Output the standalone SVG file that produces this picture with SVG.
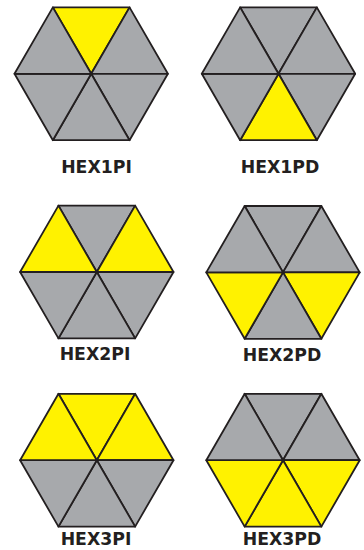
<svg xmlns="http://www.w3.org/2000/svg" width="364" height="550" viewBox="0 0 364 550">
<style>
.t{stroke:#231f20;stroke-width:1.8;stroke-linejoin:round}
.g{fill:#a7a9ac}
.y{fill:#fff200}
.lbl{font-family:"DejaVu Sans",sans-serif;font-weight:bold;font-size:17.3px;fill:#231f20;text-anchor:middle}
</style>
<defs>
<polygon id="tT" points="0,0 -38.35,-66.4 38.35,-66.4"/>
<polygon id="tTR" points="0,0 38.35,-66.4 76.7,0"/>
<polygon id="tBR" points="0,0 76.7,0 38.35,66.4"/>
<polygon id="tB" points="0,0 38.35,66.4 -38.35,66.4"/>
<polygon id="tBL" points="0,0 -38.35,66.4 -76.7,0"/>
<polygon id="tTL" points="0,0 -76.7,0 -38.35,-66.4"/>
</defs>
<g id="hex1pi">
<g transform="translate(91.2,73.8)" class="t">
<use href="#tT" class="y"/><use href="#tTR" class="g"/><use href="#tBR" class="g"/><use href="#tB" class="g"/><use href="#tBL" class="g"/><use href="#tTL" class="g"/>
</g>
<text class="lbl" x="96.5" y="173">HEX1PI</text>
</g>
<g id="hex1pd">
<g transform="translate(278.5,73.8)" class="t">
<use href="#tT" class="g"/><use href="#tTR" class="g"/><use href="#tBR" class="g"/><use href="#tB" class="y"/><use href="#tBL" class="g"/><use href="#tTL" class="g"/>
</g>
<text class="lbl" x="280" y="173">HEX1PD</text>
</g>
<g id="hex2pi">
<g transform="translate(96.8,272)" class="t">
<use href="#tT" class="g"/><use href="#tTR" class="y"/><use href="#tBR" class="g"/><use href="#tB" class="g"/><use href="#tBL" class="g"/><use href="#tTL" class="y"/>
</g>
<text class="lbl" x="95" y="360">HEX2PI</text>
</g>
<g id="hex2pd">
<g transform="translate(283,272.4)" class="t">
<use href="#tT" class="g"/><use href="#tTR" class="g"/><use href="#tBR" class="y"/><use href="#tB" class="g"/><use href="#tBL" class="y"/><use href="#tTL" class="g"/>
</g>
<text class="lbl" x="282" y="360.5">HEX2PD</text>
</g>
<g id="hex3pi">
<g transform="translate(96.8,460.2)" class="t">
<use href="#tT" class="y"/><use href="#tTR" class="y"/><use href="#tBR" class="g"/><use href="#tB" class="g"/><use href="#tBL" class="g"/><use href="#tTL" class="y"/>
</g>
<text class="lbl" x="96" y="545">HEX3PI</text>
</g>
<g id="hex3pd">
<g transform="translate(283,460.2)" class="t">
<use href="#tT" class="g"/><use href="#tTR" class="g"/><use href="#tBR" class="y"/><use href="#tB" class="y"/><use href="#tBL" class="y"/><use href="#tTL" class="g"/>
</g>
<text class="lbl" x="282" y="545">HEX3PD</text>
</g>
</svg>
